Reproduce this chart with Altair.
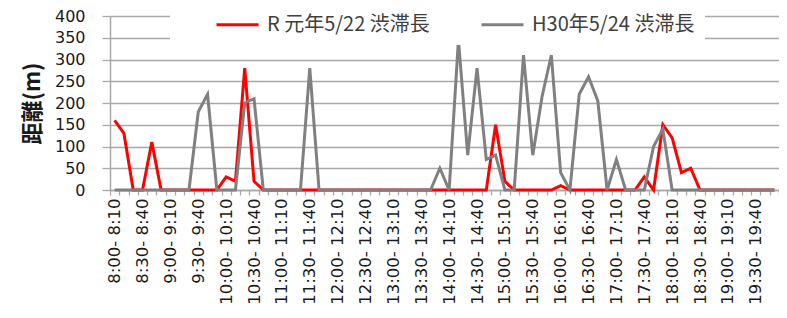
import json
import altair as alt
import pandas as pd

CATEGORIES = [
    "8:00- 8:10", "8:10- 8:20", "8:20- 8:30", "8:30- 8:40", "8:40- 8:50", "8:50- 9:00",
    "9:00- 9:10", "9:10- 9:20", "9:20- 9:30", "9:30- 9:40", "9:40- 9:50", "9:50- 10:00",
    "10:00- 10:10", "10:10- 10:20", "10:20- 10:30", "10:30- 10:40", "10:40- 10:50", "10:50- 11:00",
    "11:00- 11:10", "11:10- 11:20", "11:20- 11:30", "11:30- 11:40", "11:40- 11:50", "11:50- 12:00",
    "12:00- 12:10", "12:10- 12:20", "12:20- 12:30", "12:30- 12:40", "12:40- 12:50", "12:50- 13:00",
    "13:00- 13:10", "13:10- 13:20", "13:20- 13:30", "13:30- 13:40", "13:40- 13:50", "13:50- 14:00",
    "14:00- 14:10", "14:10- 14:20", "14:20- 14:30", "14:30- 14:40", "14:40- 14:50", "14:50- 15:00",
    "15:00- 15:10", "15:10- 15:20", "15:20- 15:30", "15:30- 15:40", "15:40- 15:50", "15:50- 16:00",
    "16:00- 16:10", "16:10- 16:20", "16:20- 16:30", "16:30- 16:40", "16:40- 16:50", "16:50- 17:00",
    "17:00- 17:10", "17:10- 17:20", "17:20- 17:30", "17:30- 17:40", "17:40- 17:50", "17:50- 18:00",
    "18:00- 18:10", "18:10- 18:20", "18:20- 18:30", "18:30- 18:40", "18:40- 18:50", "18:50- 19:00",
    "19:00- 19:10", "19:10- 19:20", "19:20- 19:30", "19:30- 19:40", "19:40- 19:50", "19:50- 20:00",
]

TICK_LABELS = [
    "8:00- 8:10", "8:30- 8:40", "9:00- 9:10", "9:30- 9:40", "10:00- 10:10", "10:30- 10:40",
    "11:00- 11:10", "11:30- 11:40", "12:00- 12:10", "12:30- 12:40", "13:00- 13:10", "13:30- 13:40",
    "14:00- 14:10", "14:30- 14:40", "15:00- 15:10", "15:30- 15:40", "16:00- 16:10", "16:30- 16:40",
    "17:00- 17:10", "17:30- 17:40", "18:00- 18:10", "18:30- 18:40", "19:00- 19:10", "19:30- 19:40",
]

SERIES_NAMES = ["R 元年5/22 渋滞長", "H30年5/24 渋滞長"]
SERIES_COLORS = ["#ff0000", "#808080"]

R_VALUES = [
    160, 130, 0, 0, 110, 0, 0, 0, 0, 0, 0, 0,
    30, 20, 280, 20, 0, 0, 0, 0, 0, 0, 0, 0,
    0, 0, 0, 0, 0, 0, 0, 0, 0, 0, 0, 0,
    0, 0, 0, 0, 0, 150, 20, 0, 0, 0, 0, 0,
    10, 0, 0, 0, 0, 0, 0, 0, 0, 30, 0, 150,
    120, 40, 50, 0, 0, 0, 0, 0, 0, 0, 0, 0,
]

H_VALUES = [
    0, 0, 0, 0, 0, 0, 0, 0, 0, 180, 220, 0,
    0, 0, 200, 210, 0, 0, 0, 0, 0, 280, 0, 0,
    0, 0, 0, 0, 0, 0, 0, 0, 0, 0, 0, 50,
    0, 345, 80, 280, 70, 80, 0, 0, 310, 80, 215, 310,
    40, 0, 220, 260, 205, 0, 70, 0, 0, 0, 100, 140,
    0, 0, 0, 0, 0, 0, 0, 0, 0, 0, 0, 0,
]

Y_TICKS = [0, 50, 100, 150, 200, 250, 300, 350, 400]

rows = []
for name, vals in zip(SERIES_NAMES, [R_VALUES, H_VALUES]):
    for cat, v in zip(CATEGORIES, vals):
        rows.append({"slot": cat, "series": name, "value": v})
df = pd.DataFrame(rows)

label_expr = f"indexof({json.dumps(TICK_LABELS, ensure_ascii=False)}, datum.value) >= 0 ? datum.label : ''"

GRID = "#a8a8a8"

x_enc = alt.X(
    "slot:N",
    sort=CATEGORIES,
    scale=alt.Scale(type="band", paddingInner=0, paddingOuter=0),
    axis=alt.Axis(
        title=None,
        labelAngle=-90,
        labelExpr=label_expr,
        labelFont="DejaVu Sans",
        labelFontSize=16.5,
        labelColor="#1a1a1a",
        labelPadding=3,
        labelOverlap=False,
        tickBand="extent",
        tickSize=5,
        tickColor=GRID,
        tickWidth=1.3,
        domainColor=GRID,
        domainWidth=1.5,
        grid=False,
    ),
)

y_enc = alt.Y(
    "value:Q",
    scale=alt.Scale(domain=[0, 400], nice=False),
    axis=alt.Axis(
        values=Y_TICKS,
        title="距離(m)",
        titleFont="Noto Sans CJK JP",
        titleFontSize=22,
        titleFontWeight="bold",
        titleColor="#1a1a1a",
        titlePadding=10,
        labelFont="DejaVu Sans",
        labelFontSize=16,
        labelColor="#1a1a1a",
        labelPadding=17,
        tickSize=8,
        tickColor=GRID,
        tickWidth=1.3,
        domainColor=GRID,
        domainWidth=1.5,
        gridColor=GRID,
        gridWidth=1.3,
    ),
)

color_enc = alt.Color(
    "series:N",
    scale=alt.Scale(domain=SERIES_NAMES, range=SERIES_COLORS),
    legend=alt.Legend(
        title="元年",
        titleOpacity=0,
        titleOrient="left",
        titleFont="Noto Sans CJK JP",
        titleFontSize=12,
        titlePadding=10,
        orient="none",
        legendX=60,
        legendY=-24,
        direction="horizontal",
        symbolType="stroke",
        symbolSize=1764,
        symbolStrokeWidth=3,
        labelFont="Noto Sans CJK JP",
        labelFontSize=20,
        labelColor="#404040",
        labelOffset=7,
        labelLimit=0,
        columnPadding=45,
        padding=10,
        fillColor="white",
    ),
)

base = alt.Chart(df).encode(x=x_enc, y=y_enc, color=color_enc)

red = base.transform_filter(alt.datum.series == SERIES_NAMES[0]).mark_line(strokeWidth=3)
gray = base.transform_filter(alt.datum.series == SERIES_NAMES[1]).mark_line(strokeWidth=3)

chart = (
    alt.layer(red, gray)
    .properties(
        width=669,
        height=174,
        autosize=alt.AutoSizeParams(type="none"),
        padding={"left": 102, "top": 8, "right": 0, "bottom": 120},
        background="white",
    )
    .configure_view(stroke=None)
)

chart.save("out.html", embed_options={"renderer": "svg", "actions": False})
